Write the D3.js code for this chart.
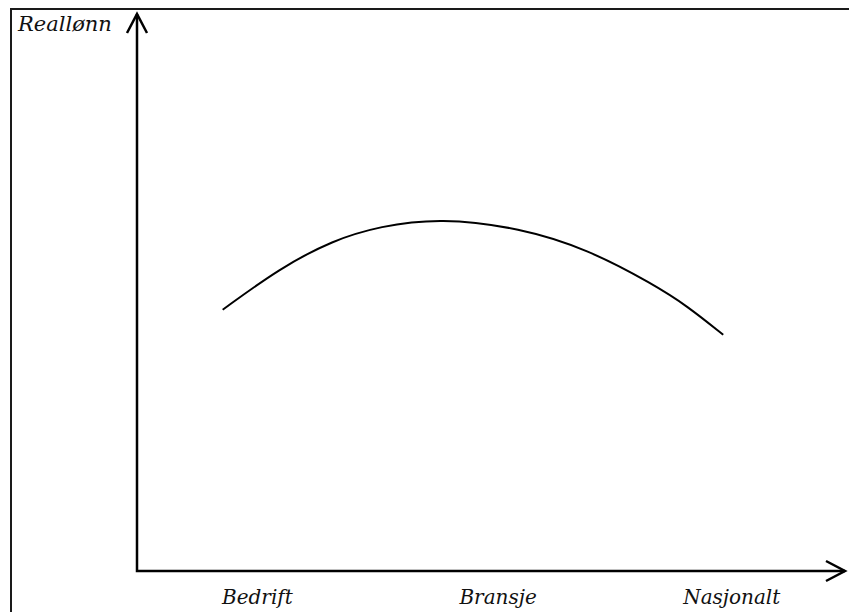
<!DOCTYPE html>
<html>
<head>
<meta charset="utf-8">
<script src="https://cdn.jsdelivr.net/npm/d3@7"></script>
<style>
  body { margin: 0; background: #fff; }
  text { font-family: "DejaVu Serif", "Liberation Serif", serif; font-style: italic; fill: #111; }
</style>
</head>
<body>
<svg width="849" height="612"></svg>
<script>
// category labels on the x axis and where they sit (0-100 scale)
const categories = ["Bedrift", "Bransje", "Nasjonalt"];
const categoryPos = [17, 51, 84];

// the hump-shaped curve (x, real wage), both 0-100
const curveX = [12.1, 20.2, 27.7, 34.3, 42.8, 54.1, 63.6, 72.9, 77.7, 82.8];
const curveY = [46.9, 54.4, 59.4, 61.9, 63.4, 61.6, 57.8, 51.5, 47.6, 42.4];

const yLabel = "Reallønn";

const svg = d3.select("svg");

// outer frame (right and bottom edges fall outside the picture)
svg.append("rect")
  .attr("x", 11).attr("y", 9)
  .attr("width", 860).attr("height", 620)
  .attr("fill", "none")
  .attr("stroke", "#1a1a1a")
  .attr("stroke-width", 2);

const xScale = d3.scaleLinear().domain([0, 100]).range([137, 845]);
const yScale = d3.scaleLinear().domain([0, 100]).range([571, 14]);

const g = svg.append("g");

// axes drawn as plain lines with open arrowheads
const axisStyle = sel => sel.attr("fill", "none").attr("stroke", "#000")
  .attr("stroke-width", 2.5).attr("stroke-linejoin", "miter");

g.append("path").call(axisStyle)
  .attr("d", `M${xScale(0)},${yScale(100)} V${yScale(0)} H${xScale(100)}`);

g.append("path").call(axisStyle)
  .attr("d", `M${xScale(0) - 10},${yScale(100) + 19} L${xScale(0)},${yScale(100)} L${xScale(0) + 10},${yScale(100) + 19}`);

g.append("path").call(axisStyle)
  .attr("d", `M${xScale(100) - 19},${yScale(0) - 10} L${xScale(100)},${yScale(0)} L${xScale(100) - 19},${yScale(0) + 10}`);

// curve
const line = d3.line()
  .x((d, i) => xScale(curveX[i]))
  .y(d => yScale(d))
  .curve(d3.curveBasis);

g.append("path")
  .datum(curveY)
  .attr("d", line)
  .attr("fill", "none")
  .attr("stroke", "#000")
  .attr("stroke-width", 2);

// category labels
g.selectAll(".cat")
  .data(categories)
  .enter()
  .append("text")
  .attr("class", "cat")
  .attr("x", (d, i) => xScale(categoryPos[i]))
  .attr("y", 604)
  .attr("text-anchor", "middle")
  .attr("font-size", 20)
  .text(d => d);

// y axis label
g.append("text")
  .attr("x", 18)
  .attr("y", 31)
  .attr("font-size", 21)
  .text(yLabel);
</script>
</body>
</html>
